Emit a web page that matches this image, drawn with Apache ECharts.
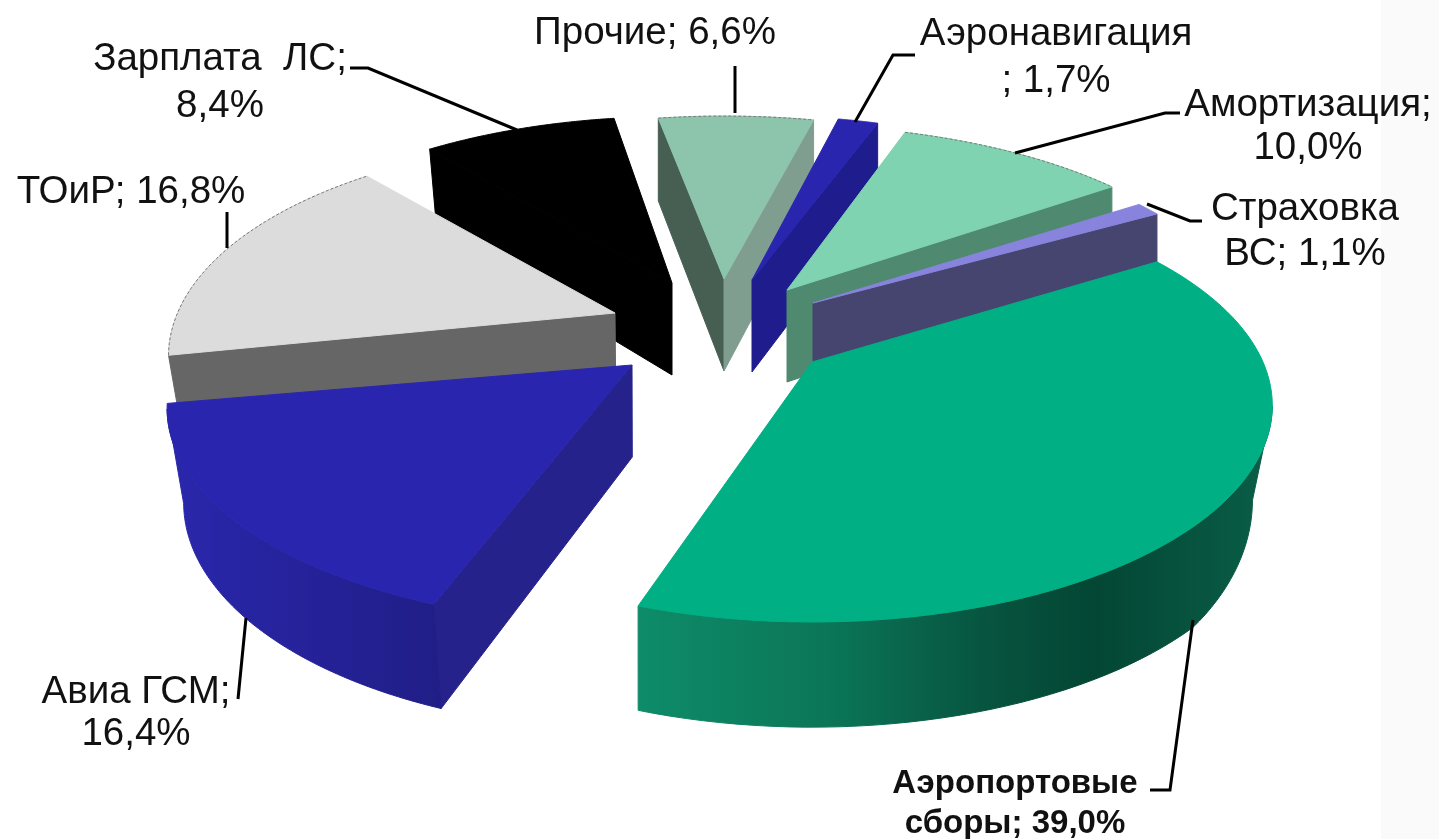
<!DOCTYPE html>
<html><head><meta charset="utf-8">
<style>html,body{margin:0;padding:0;background:#fff}#c{width:1439px;height:839px}</style>
<script src="https://cdn.jsdelivr.net/npm/echarts@6/dist/echarts.min.js"></script>
</head><body><div id="c"></div>
<script>
// ---- data (clockwise from the start of the airport-fees slice)
const names  = ['Аэропортовые сборы','Авиа ГСМ','ТОиР','Зарплата ЛС','Прочие','Аэронавигация','Амортизация','Страховка ВС'];
const values = [39.0,16.4,16.8,8.4,6.6,1.7,10.0,1.1];
const labelTemplates = ['Аэропортовые\nсборы; {v}','Авиа ГСМ;\n{v}','ТОиР; {v}','Зарплата  ЛС;\n{v}','Прочие; {v}','Аэронавигация\n; {v}','Амортизация;\n{v}','Страховка\nВС; {v}'];

// ---- styling / layout (not data)
const START_ANGLE = -33.7, K = 0.2, SX = 451, SY = 208, DEPTH = 92, NADIR_X = 640, CONVERGE = 0.035, RIGHT_X = 1193, RIGHT_PULL = 0.25;
const apex = [[812,362],[632,365],[615,313],[672,283],[724,279],[752,280],[787,290],[813,303]];
const rot  = [1.5,4,3,4.5,3.5,3,2,4];
const scaleX= [1,1.01,0.97,0.98,1,1,0.99,0.965];
const scaleY= [1,1,1,0.96,0.94,0.95,0.95,0.95];
const topColor  = ['#00AF84','#2A25AE','#DCDCDC','#000000','#8DC4AC','#2A25AE','#7FD3B0','#8884DD'];
const startWall = ['#0E8C69','#25228C','#666666','#000000','#465F52','#1F1C8E','#4F8A70','#464570'];
const endWall   = ['#0E8C69','#25228C','#666666','#000000','#7F9E90','#1F1C8E','#4F8A70','#464570'];
const outerStops= [
  [[0,'#0E8C69'],[0.3,'#0B7658'],[0.55,'#07543F'],[0.72,'#034634'],[1,'#0A5E47']],
  [[0,'#2A27AC'],[0.5,'#25229A'],[1,'#201E86']],
  [[0,'#666666'],[1,'#666666']],[[0,'#000000'],[1,'#000000']],
  [[0,'#465F52'],[1,'#465F52']],[[0,'#1F1C8E'],[1,'#1F1C8E']],
  [[0,'#4F8A70'],[1,'#4F8A70']],[[0,'#464570'],[1,'#464570']]];
const outerGrad = [[637,1272],[168,440],[168,620],[430,620],[650,820],[830,880],[900,1120],[1140,1160]];
const backArc = [false,false,true,false,true,false,true,false];
const paintOrder = [3,2,4,5,6,7,1,0];
const labelPos = [[1015,784],[136,692],[131,192],[220,59],[655,33],[1056,34],[1308,105],[1305,209]];
const labelFont= [[33,'bold',40],[38.5,'normal',42],[38.5,'normal',42],[38.5,'normal',47],[38.5,'normal',42],[38.5,'normal',47],[38.5,'normal',43],[38.5,'normal',45]];
const leaders = [
  [[1150,790],[1170,790],[1193,620]],
  [[238,699],[246,618]],
  [[227,212],[227,248]],
  [[350,68],[368,68],[517,130]],
  [[735,66],[735,113]],
  [[915,55],[893,55],[855,122]],
  [[1180,113],[1165,113],[1015,153]],
  [[1202,221],[1190,221],[1147,204]]];

const total = values.reduce((a,b)=>a+b,0);
const fmt = v => v.toFixed(1).replace('.',',') + '%';
const rad = d => d*Math.PI/180;

function sliceRange(i){
  let a = START_ANGLE;
  for(let j=0;j<i;j++) a += values[j]/total*360;
  return [a+rot[i], a+rot[i]+values[i]/total*360];
}
function drop(p,w){
  return [p[0]+Math.max(0,NADIR_X-p[0])*CONVERGE-Math.max(0,p[0]-RIGHT_X)*RIGHT_PULL, p[1]+DEPTH*Math.pow(w,-0.6)];
}
function project(i,deg,down){
  const X=Math.cos(rad(deg)),Y=Math.sin(rad(deg)),w=1-K*Y;
  const p=[apex[i][0]+scaleX[i]*SX*X/w, apex[i][1]+scaleY[i]*SY*Y/w];
  return down ? drop(p,w) : p;
}
function arc(i,down,frontOnly){
  const [a,b]=sliceRange(i),pts=[],n=80;
  for(let t=0;t<=n;t++){
    const d=a+(b-a)*t/n;
    if(frontOnly && Math.sin(rad(d))<K) continue;
    pts.push(project(i,d,down));
  }
  return pts;
}
function wallVisible(A,P,M){
  const ex=P[0]-A[0],ey=P[1]-A[1];
  const cD=ex*1-ey*0;                       // cross(edge, straight down)
  const cM=ex*(M[1]-A[1])-ey*(M[0]-A[0]);   // cross(edge, slice interior)
  return cD*cM<0;
}
function renderItem(params){
  const i = paintOrder[params.dataIndex];
  const top=arc(i,false,false);
  const A=apex[i],Ad=drop(A,1);
  const f=top[0],l=top[top.length-1],M=top[top.length>>1];
  const [a,b]=sliceRange(i);
  const ch=[];
  const wall=(P,deg,c)=>{
    if(wallVisible(A,P,M)) ch.push({type:'polygon',shape:{points:[A,P,project(i,deg,true),Ad]},style:{fill:c,stroke:c,lineWidth:1}});
  };
  wall(f,a,startWall[i]);
  wall(l,b,endWall[i]);
  const ft=arc(i,false,true),fb=arc(i,true,true);
  if(ft.length>1){
    const g=new echarts.graphic.LinearGradient(outerGrad[i][0],0,outerGrad[i][1],0,
      outerStops[i].map(s=>({offset:s[0],color:s[1]})),true);
    ch.push({type:'polygon',shape:{points:ft.concat(fb.slice().reverse())},style:{fill:g,stroke:g,lineWidth:1}});
  }
  ch.push({type:'polygon',shape:{points:[A].concat(top)},style:{fill:topColor[i],stroke:topColor[i],lineWidth:1}});
  if(backArc[i]) ch.push({type:'polyline',shape:{points:top},
    style:{fill:null,stroke:'#777',lineWidth:1,lineDash:[3,2]}});
  return {type:'group',children:ch};
}
function renderLabel(params){
  const i=params.dataIndex, lf=labelFont[i], p=labelPos[i];
  return {type:'group',children:[
    {type:'polyline',shape:{points:leaders[i]},style:{fill:null,stroke:'#000',lineWidth:3}},
    {type:'text',style:{x:p[0],y:p[1]-lf[2]/2,text:labelTemplates[i].replace('{v}',fmt(values[i])),
      fill:'#111',align:'center',verticalAlign:'top',lineHeight:lf[2],
      font:lf[1]+' '+lf[0]+'px "Liberation Sans", Arial, sans-serif'}}
  ]};
}
const chart=echarts.init(document.getElementById('c'),null,{renderer:'canvas'});
chart.setOption({
  animation:false,
  backgroundColor:'#ffffff',
  graphic:[{type:'rect',z:0,shape:{x:1381,y:0,width:58,height:839},style:{fill:'#FAFAFA'}}],
  series:[
    {type:'custom',coordinateSystem:'none',z:2,renderItem,silent:true,
     data:paintOrder.map(i=>({name:names[i],value:values[i]}))},
    {type:'custom',coordinateSystem:'none',z:3,renderItem:renderLabel,silent:true,
     data:names.map((n,i)=>({name:n,value:values[i]}))}
  ]
});
</script></body></html>
